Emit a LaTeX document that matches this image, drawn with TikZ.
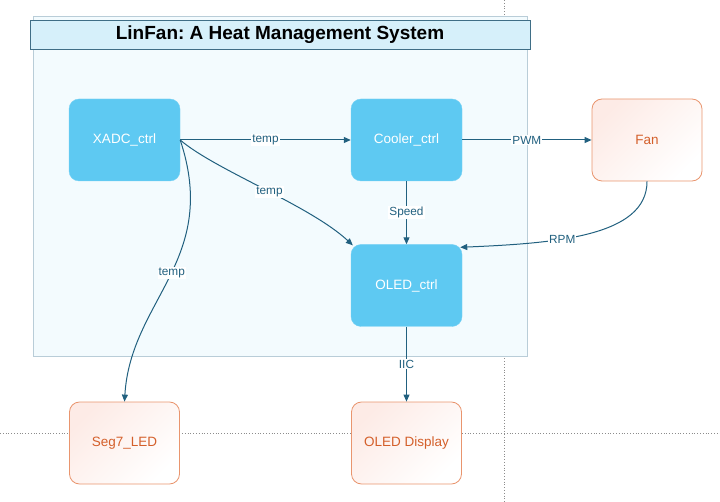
\documentclass[tikz,border=0pt]{standalone}
\usepackage{fontspec}
\setmainfont{Liberation Sans}
\usepackage{tikz}
\usetikzlibrary{arrows.meta}
\frenchspacing

\definecolor{blkfill}{HTML}{5EC9F2}
\definecolor{extdraw}{HTML}{E9956E}
\definecolor{exttext}{HTML}{D45F2A}
\definecolor{extshade}{HTML}{FDEBE6}
\definecolor{lnkcol}{HTML}{21607F}
\definecolor{contfill}{HTML}{F3FBFE}
\definecolor{contdraw}{HTML}{B9CDD8}
\definecolor{titlefill}{HTML}{D6F0FA}
\definecolor{titledraw}{HTML}{3F6E86}

\begin{document}
\begin{tikzpicture}[
      x=1pt, y=-1pt,
      blk/.style = {rectangle, rounded corners=10pt, fill=blkfill, draw=blkfill!85!white,
                    minimum width=111pt, minimum height=82pt, text=white,
                    font=\fontsize{13.5}{16}\selectfont},
      ext/.style = {rectangle, rounded corners=10pt, draw=extdraw, line width=0.8pt,
                    top color=extshade, bottom color=white, shading angle=45,
                    minimum width=110pt, minimum height=82pt, text=exttext,
                    font=\fontsize{13.5}{16}\selectfont},
      lnk/.style = {draw=lnkcol, line width=1pt, -{Triangle[length=7pt,width=6pt]}},
      lb/.style  = {font=\fontsize{11.8}{14}\selectfont, text=lnkcol, fill=white, inner sep=1pt},
      guide/.style = {draw=gray!90, dotted, line width=0.8pt},
    ]
    \useasboundingbox (0,0) rectangle (720,502);
    \draw[guide] (504,0) -- (504,502);
    \draw[guide] (0,433) -- (720,433);

    \draw[fill=contfill, draw=contdraw, line width=1pt] (33,17) rectangle (527,357);
    \node[draw=titledraw, fill=titlefill, line width=0.8pt, minimum width=500pt, minimum height=29pt,
          font=\fontsize{19}{22}\selectfont\bfseries] (ttl) at (280,34.5) {LinFan: A Heat Management System};

    \node[blk] (xadc) at (124.5,140) {XADC\_ctrl};
    \node[blk] (cool) at (406.5,140) {Cooler\_ctrl};
    \node[blk] (oled) at (406.5,285.5) {OLED\_ctrl};
    \node[ext] (fan)  at (647,140)   {Fan};
    \node[ext] (seg)  at (124.5,443) {Seg7\_LED};
    \node[ext] (disp) at (406.5,443) {OLED Display};

    \draw[lnk] (xadc.east) -- node[lb] {temp} (cool.west);
    \draw[lnk] (xadc.east) .. controls +(35,30) and +(-43,-40) .. node[lb, pos=0.53] {temp} ([xshift=2pt,yshift=-1pt]oled.north west);
    \draw[lnk] (xadc.east) .. controls +(40,120) and +(6,-102) .. node[lb, pos=0.48] {temp} (seg.north);
    \draw[lnk] (cool.east) -- node[lb] {PWM} (fan.west);
    \draw[lnk] (cool.south) -- node[lb] {Speed} (oled.north);
    \draw[lnk] (fan.south) .. controls +(0,55) and +(95,-4) .. node[lb, pos=0.62] {RPM} ([xshift=-2pt,yshift=-3pt]oled.north east);
    \draw[lnk] (oled.south) -- node[lb] {IIC} (disp.north);
  \end{tikzpicture}
\end{document}
